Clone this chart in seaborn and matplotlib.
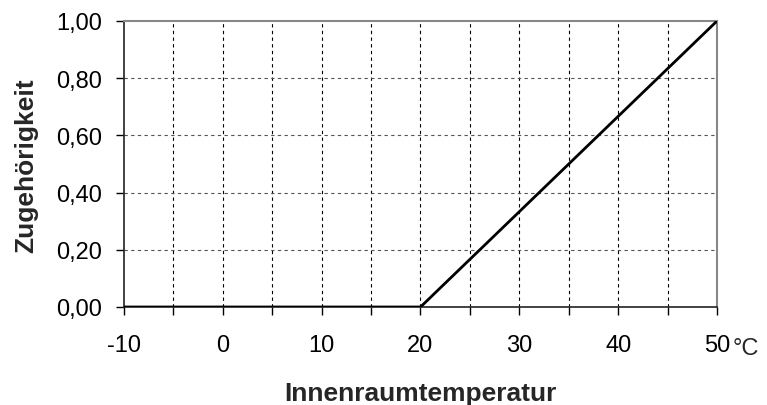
import matplotlib
matplotlib.use("Agg")
import matplotlib.pyplot as plt
import seaborn as sns
import pandas as pd
import numpy as np

temperature = [-10, 20, 50]
membership = [0.0, 0.0, 1.0]
x_ticks = list(range(-10, 51, 5))
x_labels = ["" if t % 10 else str(t) for t in x_ticks]
y_ticks = [0.0, 0.2, 0.4, 0.6, 0.8, 1.0]
y_labels = ["0,00", "0,20", "0,40", "0,60", "0,80", "1,00"]

sns.set_theme(style="white")
plt.rcParams['font.family'] = ['Liberation Sans', 'DejaVu Sans']

W, H = 767, 406
left, right, top, bottom = 124, 717, 22, 308
fig = plt.figure(figsize=(W / 100, H / 100), dpi=100)
ax = fig.add_axes([left / W, 1 - bottom / H, (right - left) / W, (bottom - top) / H])

df = pd.DataFrame({"T": temperature, "M": membership})
sns.lineplot(data=df, x="T", y="M", sort=False, color="black", linewidth=2.0, ax=ax, zorder=5)

ax.set_xlim(-10, 50)
ax.set_ylim(0, 1)
ax.set_xticks(x_ticks)
ax.set_xticklabels(x_labels, fontsize=17)
ax.set_yticks(y_ticks)
ax.set_yticklabels(y_labels, fontsize=17)

for t in x_ticks[1:-1]:
    ax.axvline(t, color="black", linestyle=(0, (3, 3)), linewidth=0.8, zorder=1)
for v in y_ticks[1:-1]:
    ax.axhline(v, color="#555555", linestyle=(0, (3, 3)), linewidth=0.8, zorder=1)

ax.tick_params(axis="both", which="major", direction="out", length=6, width=1,
               color="black", bottom=True, left=True, labelcolor="black")
ax.tick_params(axis="x", pad=13.5)
ax.tick_params(axis="y", pad=10)
for side in ["top", "right"]:
    ax.spines[side].set_color("#888888")
    ax.spines[side].set_linewidth(1.5)
for side in ["left", "bottom"]:
    ax.spines[side].set_color("#222222")
    ax.spines[side].set_linewidth(1.2)

ax.set_xlabel("Innenraumtemperatur", fontsize=19, fontweight="bold")
ax.set_ylabel("Zugehörigkeit", fontsize=19, fontweight="bold")
ax.xaxis.label.set_va("center")
ax.yaxis.label.set_va("center")
ax.xaxis.set_label_coords(0.5, -0.30)
ax.yaxis.set_label_coords(-0.165, 0.498)

ax.annotate("°C", xy=(50, 0), xycoords="data", xytext=(11, -34),
            textcoords="offset points", fontsize=17, ha="left", va="baseline")

fig.savefig("out.png", dpi=100)
